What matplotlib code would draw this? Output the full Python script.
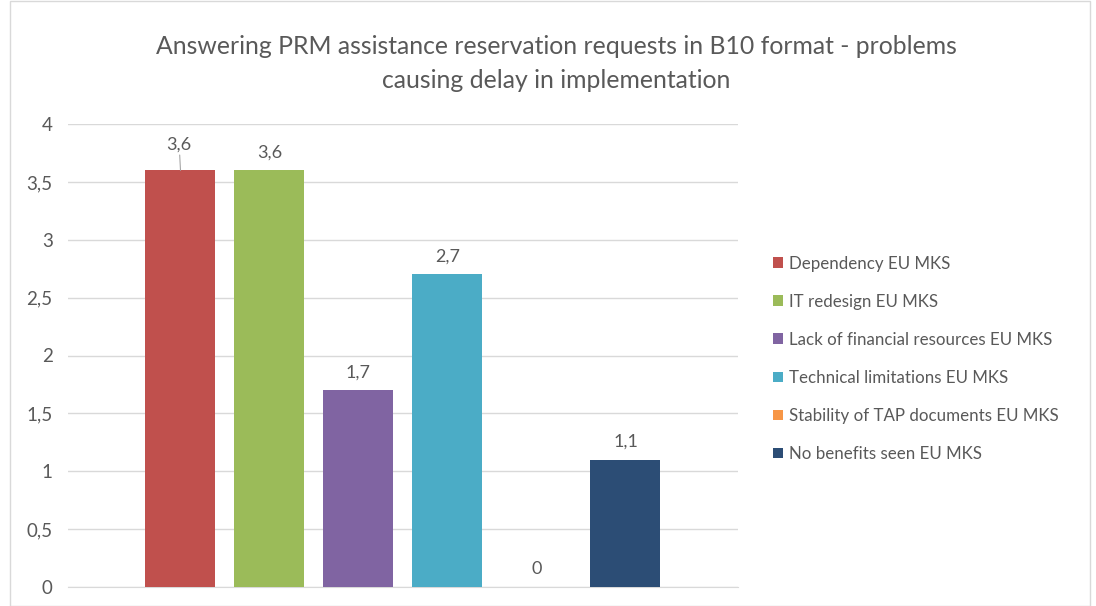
import matplotlib.pyplot as plt
from matplotlib.patches import Rectangle
from matplotlib.ticker import FuncFormatter

plt.rcParams['font.family'] = ['Lato', 'DejaVu Sans']

series = ["Dependency EU MKS", "IT redesign EU MKS", "Lack of financial resources EU MKS",
          "Technical limitations EU MKS", "Stability of TAP documents EU MKS", "No benefits seen EU MKS"]
values = [3.6, 3.6, 1.7, 2.7, 0, 1.1]
colors = ["#c0504d", "#9bbb59", "#8064a2", "#4bacc6", "#f79646", "#2c4d75"]
yticks = [0, 0.5, 1, 1.5, 2, 2.5, 3, 3.5, 4]

W, H = 1096, 606
fig = plt.figure(figsize=(W / 100, H / 100), dpi=100)
ax = fig.add_axes([68 / W, 1 - 587 / H, (738 - 68) / W, (587 - 124) / H])

txt = "#595959"
pitch = 89
width = 70
x0 = 403 - 2.5 * pitch
bars = []
for i, (name, v, c) in enumerate(zip(series, values, colors)):
    b = ax.bar(x0 + i * pitch, v, width=width, color=c, label=name, zorder=3)
    bars.append(b)
    lab = f"{v:g}".replace(".", ",")
    if i == 0:
        ax.annotate(lab, xy=(x0 + i * pitch, v), xytext=(-1, 13),
                    textcoords="offset points", ha="center", va="bottom", fontsize=13,
                    color=txt, arrowprops=dict(arrowstyle="-", color="#a6a6a6", lw=0.8,
                                               shrinkA=0, shrinkB=0))
    else:
        ax.annotate(lab, xy=(x0 + i * pitch, v), xytext=(0, 7),
                    textcoords="offset points", ha="center", va="bottom", fontsize=13,
                    color=txt)

ax.set_xlim(68, 738)
ax.set_ylim(0, 4)
ax.set_yticks(yticks)
ax.yaxis.set_major_formatter(FuncFormatter(lambda v, p: f"{v:g}".replace(".", ",")))
ax.set_xticks([])
ax.tick_params(axis="y", length=0, pad=11, labelsize=13.5, labelcolor=txt)
ax.grid(axis="y", color="#d9d9d9", lw=1, zorder=0)
for s in ["top", "right", "left"]:
    ax.spines[s].set_visible(False)
ax.spines["bottom"].set_color("#d9d9d9")

fig.text(556 / W, 1 - 47 / H, "Answering PRM assistance reservation requests in B10 format - problems",
         ha="center", va="center", fontsize=17.8, color=txt)
fig.text(556 / W, 1 - 80 / H, "causing delay in implementation",
         ha="center", va="center", fontsize=17.8, color=txt)

handles = [b[0] for b in bars]
fig.legend(handles, series, loc="upper left", bbox_to_anchor=(766 / W, 1 - 249 / H),
           frameon=False, fontsize=12.2, labelcolor=txt, handlelength=0.6, handleheight=0.6,
           handletextpad=0.35, labelspacing=1.3, borderaxespad=0)

fig.patches.append(Rectangle((10 / W, 0), 1 - 16 / W, 1 - 1 / H, transform=fig.transFigure,
                             fill=False, edgecolor="#d9d9d9", lw=1))

fig.savefig("out.png", dpi=100)
